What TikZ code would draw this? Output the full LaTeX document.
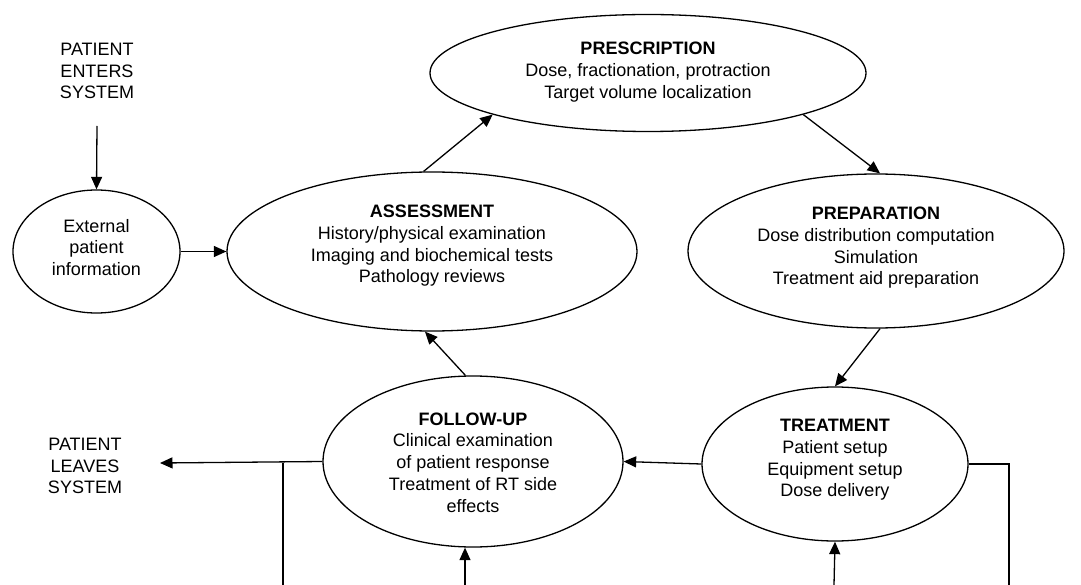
\documentclass[tikz,border=0pt]{standalone}
\usepackage{fontspec}
\setmainfont{Liberation Sans}
\usetikzlibrary{shapes.geometric,arrows.meta}
\begin{document}
\begin{tikzpicture}[x=1pt,y=-1pt,
  font=\fontsize{18}{21.7}\selectfont,
  line width=1.3pt,
  el/.style={ellipse, draw, inner sep=0pt},
  txt/.style={align=center, inner sep=0pt},
  arr/.style={-{Triangle[length=12.5pt,width=11pt]}},
  ln/.style={-}]
\useasboundingbox (0,0) rectangle (1081,585);

% ellipses
\node[el, minimum width=436pt, minimum height=117pt] (presc) at (648,73) {};
\node[txt] (prescT) at (648,72) {\textbf{PRESCRIPTION}\\Dose, fractionation, protraction\\Target volume localization};

\node[el, minimum width=167pt, minimum height=123pt] (ext) at (96.5,251.5) {};
\node[txt] (extT) at (96.5,247.5) {External\\patient\\information};

\node[el, minimum width=410pt, minimum height=159pt] (assess) at (432,251.5) {};
\node[txt] (assessT) at (432,246) {\textbf{ASSESSMENT}\\History/physical examination\\Imaging and biochemical tests\\Pathology reviews};

\node[el, minimum width=376pt, minimum height=154pt] (prep) at (876,251) {};
\node[txt] (prepT) at (876,248) {\textbf{PREPARATION}\\Dose distribution computation\\Simulation\\Treatment aid preparation};

\node[el, minimum width=300pt, minimum height=171pt] (fu) at (473,461.5) {};
\node[txt] (fuT) at (473,462.5) {\textbf{FOLLOW-UP}\\Clinical examination\\of patient response\\Treatment of RT side\\effects};

\node[el, minimum width=266pt, minimum height=154pt] (treat) at (835,464) {};
\node[txt] (treatT) at (835,460) {\textbf{TREATMENT}\\Patient setup\\Equipment setup\\Dose delivery};

% free texts
\node[txt] (enter) at (97,71) {PATIENT\\ENTERS\\SYSTEM};
\node[txt] (leave) at (85,466) {PATIENT\\LEAVES\\SYSTEM};

% coordinates
\coordinate (enterA) at (97,126);
\coordinate (leaveA) at (160,463);
\coordinate (jL) at (283,463);
\coordinate (jLb) at (283,585);
\coordinate (fuIn) at (465,585);
\coordinate (trIn) at (834,585);
\coordinate (jR) at (1009,464);
\coordinate (jRb) at (1009,585);

% connectors
\draw[arr] (enterA) -- (ext.north);
\draw[arr] (ext.east) -- (assess.west);
\draw[arr] (assess.96.5) -- (presc.195);
\draw[arr] (presc.345) -- (prep.87);
\draw[arr] (prep.273) -- (treat.north);
\draw[arr] (treat.west) -- (fu.east);
\draw[arr] (fu.95) -- (assess.265);
\draw[arr] (fu.west) -- (leaveA);
\draw[ln] (jL) -- (jLb);
\draw[arr] (fuIn) -- (fu.south -| fuIn);
\draw[arr] (trIn) -- (treat.south);
\draw[ln] (treat.east) -- (jR) -- (jRb);
\end{tikzpicture}
\end{document}
